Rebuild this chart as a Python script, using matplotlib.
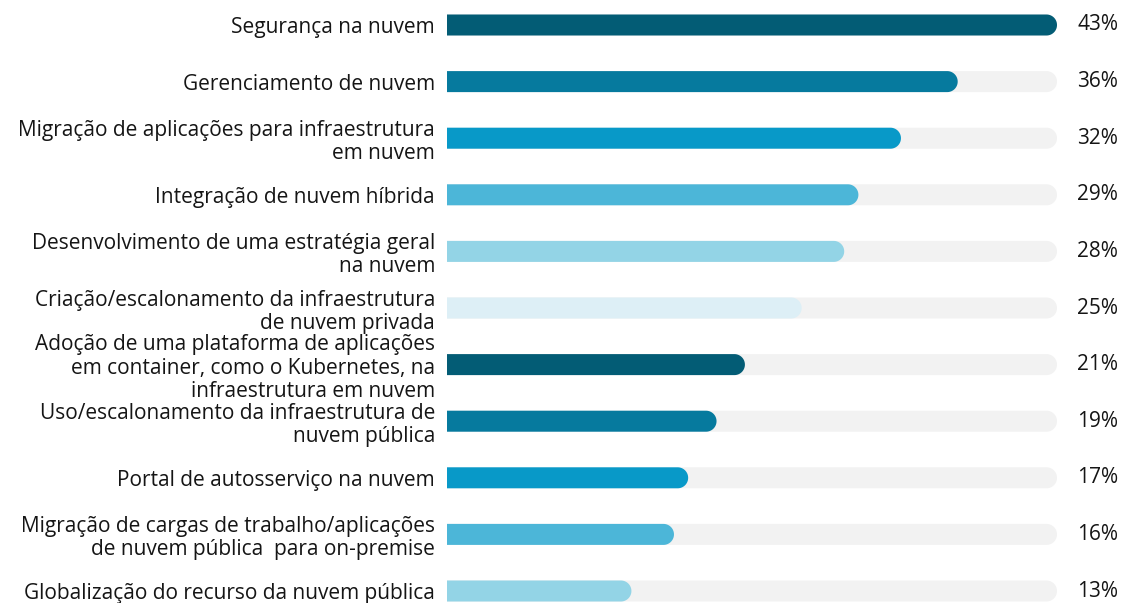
import matplotlib
matplotlib.use("Agg")
import matplotlib.pyplot as plt
import matplotlib.transforms as mtransforms
from matplotlib.patches import Polygon
import numpy as np

categories = [
    "Segurança na nuvem",
    "Gerenciamento de nuvem",
    "Migração de aplicações para infraestrutura\nem nuvem",
    "Integração de nuvem híbrida",
    "Desenvolvimento de uma estratégia geral\nna nuvem",
    "Criação/escalonamento da infraestrutura\nde nuvem privada",
    "Adoção de uma plataforma de aplicações\nem container, como o Kubernetes, na\ninfraestrutura em nuvem",
    "Uso/escalonamento da infraestrutura de\nnuvem pública",
    "Portal de autosserviço na nuvem",
    "Migração de cargas de trabalho/aplicações\nde nuvem pública  para on-premise",
    "Globalização do recurso da nuvem pública",
]
values = [43, 36, 32, 29, 28, 25, 21, 19, 17, 16, 13]
value_labels = ["43%", "36%", "32%", "29%", "28%", "25%", "21%", "19%", "17%", "16%", "13%"]

PALETTE = ["#035c75", "#067a9e", "#0899c8", "#4cb6d8", "#93d4e6", "#ddeff6"]
TRACK = "#f2f2f2"
INK = "#151515"

W, H, DPI = 1121, 603, 100
plt.rcParams["font.family"] = ["Open Sans", "DejaVu Sans"]

fig = plt.figure(figsize=(W / DPI, H / DPI), dpi=DPI)
ax = fig.add_axes([447 / W, 0, 610 / W, 1])

track_max = max(values)
row_px = 56.6
bar_px = 21
px_per_unit = 610 / track_max
cap = (bar_px / 2) / px_per_unit      # cap radius in x data units
half_h = (bar_px / 2) / row_px        # half bar height in y data units
theta = np.linspace(-np.pi / 2, np.pi / 2, 40)


def rounded_bar(y, value, color, z):
    # square left end, semicircular right end (round in pixels)
    arc_x = value - cap + cap * np.cos(theta)
    arc_y = y + half_h * np.sin(theta)
    xs = np.concatenate([[0], arc_x, [0]])
    ys = np.concatenate([[y - half_h], arc_y, [y + half_h]])
    ax.add_patch(Polygon(np.column_stack([xs, ys]), closed=True,
                         facecolor=color, edgecolor="none", zorder=z))


for i, (v, c) in enumerate(zip(values, PALETTE * 2)):
    rounded_bar(i, track_max, TRACK, 2)
    rounded_bar(i, v, c, 3)

trans = mtransforms.blended_transform_factory(ax.transAxes, ax.transData)
for i, lab in enumerate(value_labels):
    ax.text(1.1, i, lab, transform=trans, ha="right", va="center",
            fontsize=15, color=INK)

ax.set_xlim(0, track_max)
ax.set_ylim((H - 25) / row_px, -25 / row_px)
ax.set_yticks(range(len(categories)))
ax.set_yticklabels(categories, fontsize=15, color=INK, linespacing=1.15)
ax.tick_params(axis="y", length=0, pad=8.6)
ax.set_xticks([])
for spine in ax.spines.values():
    spine.set_visible(False)

fig.savefig("out.png", dpi=DPI)
